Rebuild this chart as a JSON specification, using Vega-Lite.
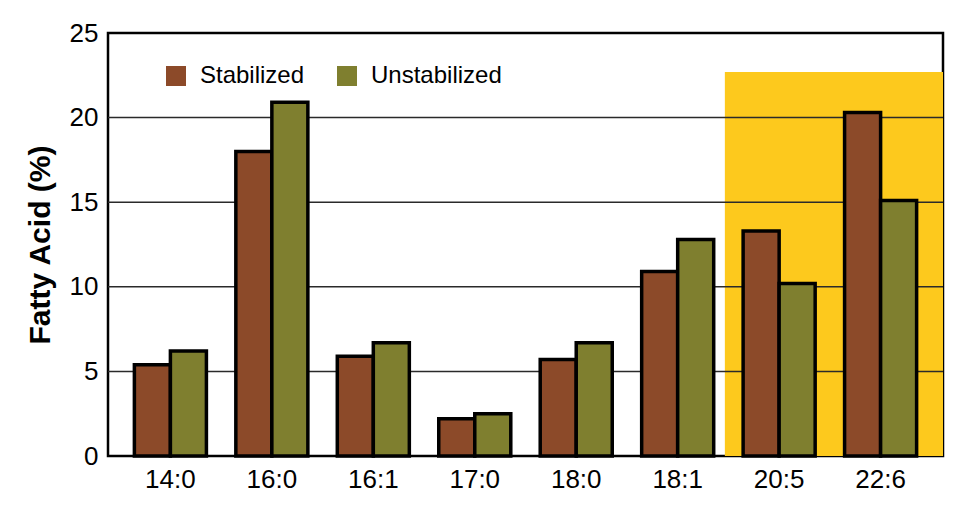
{
  "$schema": "https://vega.github.io/schema/vega-lite/v6.json",
  "width": 835,
  "height": 423,
  "autosize": {"type": "none"},
  "padding": {"left": 108, "top": 33, "right": 17, "bottom": 52},
  "background": "white",
  "datasets": {
    "bars": [
      {"acid": "14:0", "group": "Stabilized", "value": 5.4},
      {"acid": "14:0", "group": "Unstabilized", "value": 6.2},
      {"acid": "16:0", "group": "Stabilized", "value": 18.0},
      {"acid": "16:0", "group": "Unstabilized", "value": 20.9},
      {"acid": "16:1", "group": "Stabilized", "value": 5.9},
      {"acid": "16:1", "group": "Unstabilized", "value": 6.7},
      {"acid": "17:0", "group": "Stabilized", "value": 2.2},
      {"acid": "17:0", "group": "Unstabilized", "value": 2.5},
      {"acid": "18:0", "group": "Stabilized", "value": 5.7},
      {"acid": "18:0", "group": "Unstabilized", "value": 6.7},
      {"acid": "18:1", "group": "Stabilized", "value": 10.9},
      {"acid": "18:1", "group": "Unstabilized", "value": 12.8},
      {"acid": "20:5", "group": "Stabilized", "value": 13.3},
      {"acid": "20:5", "group": "Unstabilized", "value": 10.2},
      {"acid": "22:6", "group": "Stabilized", "value": 20.3},
      {"acid": "22:6", "group": "Unstabilized", "value": 15.1}
    ],
    "highlight": [{"x1": 5.91, "x2": 8, "top": 22.7}],
    "grid": [{"v": 5}, {"v": 10}, {"v": 15}, {"v": 20}]
  },
  "layer": [
    {
      "data": {"name": "highlight"},
      "mark": {"type": "rect", "color": "#FDC91D"},
      "encoding": {
        "x": {"field": "x1", "type": "quantitative", "scale": {"domain": [0, 8], "nice": false, "zero": false}, "axis": null},
        "x2": {"field": "x2"},
        "y": {"field": "top", "type": "quantitative", "scale": {"domain": [0, 25], "nice": false}, "title": "Fatty Acid (%)", "axis": {"values": [0, 5, 10, 15, 20, 25]}},
        "y2": {"datum": 0}
      }
    },
    {
      "data": {"name": "grid"},
      "mark": {"type": "rule", "color": "#2a2a2a", "strokeWidth": 1.5},
      "encoding": {
        "y": {"field": "v", "type": "quantitative", "scale": {"domain": [0, 25], "nice": false}, "title": "Fatty Acid (%)", "axis": {"values": [0, 5, 10, 15, 20, 25]}}
      }
    },
    {
      "data": {"name": "bars"},
      "mark": {"type": "bar", "stroke": "black", "strokeWidth": 3.5, "strokeJoin": "miter"},
      "encoding": {
        "x": {
          "field": "acid", "type": "nominal", "sort": null,
          "scale": {"paddingInner": 0.29, "paddingOuter": 0.26},
          "axis": {"title": null, "labelAngle": 0, "labelPadding": 10, "ticks": false, "domain": false, "labelFontSize": 26}
        },
        "xOffset": {"field": "group", "type": "nominal"},
        "y": {"field": "value", "type": "quantitative", "scale": {"domain": [0, 25], "nice": false}, "title": "Fatty Acid (%)", "axis": {"values": [0, 5, 10, 15, 20, 25]}},
        "color": {
          "field": "group", "type": "nominal",
          "scale": {"domain": ["Stabilized", "Unstabilized"], "range": ["#8C4A29", "#7F7F2F"]},
          "legend": {
            "title": null, "orient": "none", "direction": "horizontal",
            "legendX": 56, "legendY": 31, "padding": 0,
            "symbolType": "square", "symbolSize": 400, "symbolStrokeWidth": 0,
            "labelFontSize": 24, "labelFont": "Liberation Sans", "labelColor": "black",
            "labelOffset": 12, "columnPadding": 30, "labelLimit": 400
          }
        }
      }
    }
  ],
  "resolve": {"scale": {"x": "independent"}},
  "config": {
    "view": {"stroke": "black", "strokeWidth": 2.5},
    "axis": {"labelFont": "Liberation Sans", "labelColor": "black", "titleFont": "Liberation Sans", "titleColor": "black"},
    "axisY": {"grid": false, "ticks": false, "domain": false, "labelPadding": 10, "labelFontSize": 26, "titleFontSize": 30, "titleFontWeight": "bold", "titlePadding": 14}
  }
}
